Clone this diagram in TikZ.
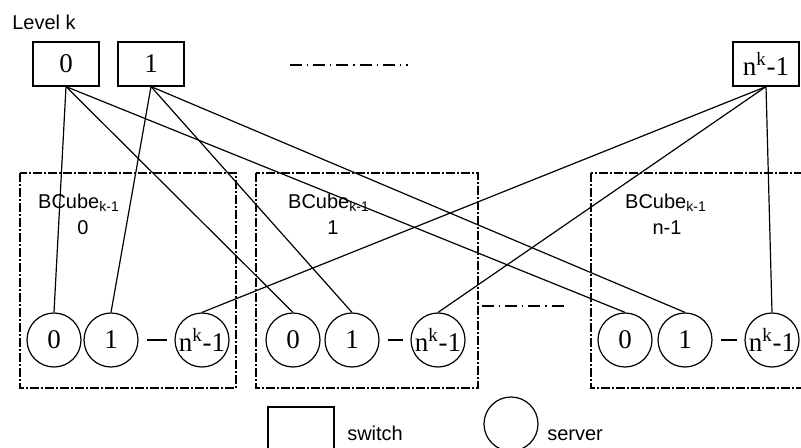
\documentclass[tikz,border=0pt]{standalone}
\usepackage{fontspec}
\setmainfont{Liberation Serif}
\setsansfont{Liberation Sans}

\begin{document}
\begin{tikzpicture}[x=0.5pt,y=-0.5pt,line width=0.6pt,
  swbox/.style={draw,rectangle,minimum width=33pt,minimum height=22pt,inner sep=0pt,font=\fontsize{13.5}{15}\selectfont},
  srvcircle/.style={draw,circle,minimum size=27pt,inner sep=0pt,font=\fontsize{13.5}{15}\selectfont},
  cubebox/.style={dash pattern=on 4.5pt off 1pt on 1pt off 1pt},
  gapline/.style={dash pattern=on 6pt off 2.5pt on 0.6pt off 2.5pt},
  lab/.style={font=\sffamily\fontsize{10}{11}\selectfont}]
  \useasboundingbox (0,0) rectangle (801,448);
  \node[lab] (level) at (44,22) {Level k};
  % switches of level k
  \node[swbox] (sw0) at (66,64) {0};
  \node[swbox] (sw1) at (151,64) {1};
  \node[swbox] (swn) at (766,64) {n\textsuperscript{k}-1};
  \draw[gapline] (290,65) -- (408,65);
  % the BCube_{k-1} cells
  \draw[cubebox] (20,173) rectangle (236,388);
  \draw[cubebox] (256,173) rectangle (478,388);
  \draw[cubebox] (591,173) rectangle (812,388);
  \node[lab] (cube0) at (79,203) {BCube\textsubscript{k-1}};
  \node[lab] (cube1) at (329,203) {BCube\textsubscript{k-1}};
  \node[lab] (cube2) at (666,203) {BCube\textsubscript{k-1}};
  \node[lab] (id0) at (83,228) {0};
  \node[lab] (id1) at (333,228) {1};
  \node[lab] (id2) at (667,228) {n-1};
  \draw[gapline] (482,306) -- (568,306);
  % servers
  \foreach \b/\xa/\xb/\xc in {0/54/111/202, 1/293/352/438, 2/625/685/772} {
    \node[srvcircle] (s\b-0) at (\xa,340) {0};
    \node[srvcircle] (s\b-1) at (\xb,340) {1};
    \node[srvcircle] (s\b-n) at (\xc,340) {n\textsuperscript{k}-1};
    \draw[shorten <=4pt,shorten >=3.5pt] (s\b-1.east) -- (s\b-n.west);
  }
  % links
  \foreach \b in {0,1,2} {
    \draw (sw0.south) -- (s\b-0.north);
    \draw (sw1.south) -- (s\b-1.north);
    \draw (swn.south) -- (s\b-n.north);
  }
  % legend
  \node[swbox] (legsw) at (301,429) {};
  \node[lab,anchor=base west] (legswtxt) at (340,440) {switch};
  \node[srvcircle] (legsrv) at (511,424) {};
  \node[lab,anchor=base west] (legsrvtxt) at (540,440) {server};
\end{tikzpicture}
\end{document}
